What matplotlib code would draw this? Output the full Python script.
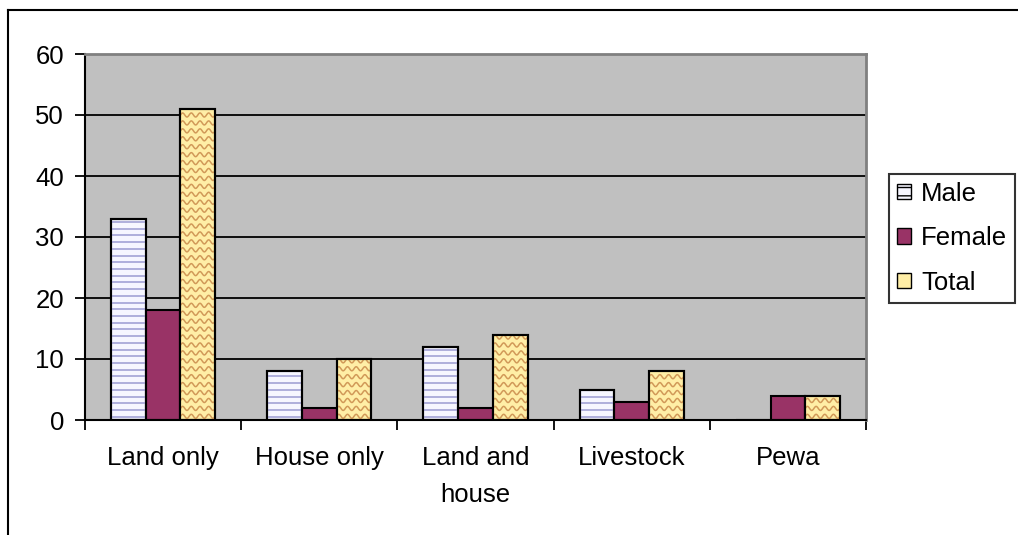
import matplotlib.pyplot as plt
import numpy as np
from matplotlib.patches import Patch
from matplotlib.lines import Line2D

plt.rcParams['font.family'] = ['Liberation Sans', 'DejaVu Sans']

categories = ["Land only", "House only", "Land and\nhouse", "Livestock", "Pewa"]
male = [33, 8, 12, 5, 0]
female = [18, 2, 2, 3, 4]
total = [51, 10, 14, 8, 4]

yticks = [0, 10, 20, 30, 40, 50, 60]

male_face = "#F6F6FF"
male_line = "#A3A3D6"
female_face = "#993366"
total_face = "#FFEEA6"
total_wave = "#CC9050"
plot_bg = "#C0C0C0"
fs = 18.5

fig = plt.figure(figsize=(10.18, 5.35), dpi=100)
ax = fig.add_axes([85/1018, 1-420/535, (866-85)/1018, (420-54)/535])
ax.set_facecolor(plot_bg)

# outer chart frame (only left and top visible)
fig.add_artist(Line2D([8/1018, 8/1018], [0, 1-10/535], transform=fig.transFigure, color="black", lw=1.5))
fig.add_artist(Line2D([8/1018, 1], [1-10/535, 1-10/535], transform=fig.transFigure, color="black", lw=1.5))

x = np.arange(len(categories))
w = 1/4.5

for y in yticks[1:-1]:
    ax.axhline(y, color="black", lw=1.3, zorder=1)

# male bars: horizontal stripes
mbars = ax.bar(x - w, male, w, color=male_face, edgecolor="black", lw=1.5, zorder=2)
for b in mbars:
    h = b.get_height()
    if h <= 0:
        continue
    x0 = b.get_x()
    for yy in np.arange(0.55, h, 1.1):
        ln = ax.plot([x0, x0 + w], [yy, yy], color=male_line, lw=1.2, zorder=3)[0]
        ln.set_clip_path(b)
    ax.bar(b.get_x() + w/2, h, w, fill=False, edgecolor="black", lw=1.5, zorder=4)

ax.bar(x, female, w, color=female_face, edgecolor="black", lw=1.5, zorder=2)

# total bars: wavy texture
tbars = ax.bar(x + w, total, w, color=total_face, edgecolor="black", lw=1.5, zorder=2)
for b in tbars:
    h = b.get_height()
    x0 = b.get_x()
    xs = np.linspace(x0, x0 + w, 120)
    for yy in np.arange(0.6, h + 1, 1.3):
        ys = yy + 0.33*np.sin(2*np.pi*(xs - x0)/(w/4))
        ln = ax.plot(xs, ys, color=total_wave, lw=1.1, alpha=0.9, zorder=3)[0]
        ln.set_clip_path(b)
    ax.bar(b.get_x() + w/2, h, w, fill=False, edgecolor="black", lw=1.5, zorder=4)

ax.set_xlim(-0.5, 4.5)
ax.set_ylim(0, 60)
ax.set_yticks(yticks)
ax.set_xticks(np.arange(-0.5, 5, 1))
ax.set_xticklabels([])
ax.set_xticks(x, minor=True)
ax.set_xticklabels(categories, minor=True, linespacing=1.65)
ax.tick_params(axis="x", which="major", length=7, width=1.3, direction="out", color="black")
ax.tick_params(axis="x", which="minor", length=0, pad=19, labelsize=fs)
ax.tick_params(axis="y", length=7, width=1.3, direction="out", pad=8, labelsize=fs)

for s in ["left", "bottom"]:
    ax.spines[s].set_color("black")
    ax.spines[s].set_linewidth(1.5)
for s in ["top", "right"]:
    ax.spines[s].set_color("#808080")
    ax.spines[s].set_linewidth(2)

handles = [Patch(facecolor=male_face, edgecolor="black", hatch="--"),
           Patch(facecolor=female_face, edgecolor="black"),
           Patch(facecolor=total_face, edgecolor="black")]
leg = fig.legend(handles, ["Male", "Female", "Total"], loc="upper left",
                 bbox_to_anchor=(889/1018, 1-174/535), borderaxespad=0,
                 fancybox=False, frameon=True, edgecolor="black", fontsize=fs,
                 handlelength=0.55, handleheight=0.55, handletextpad=0.4,
                 labelspacing=0.8, borderpad=0.3)
leg.get_frame().set_linewidth(1.5)

fig.savefig("out.png", dpi=100)
